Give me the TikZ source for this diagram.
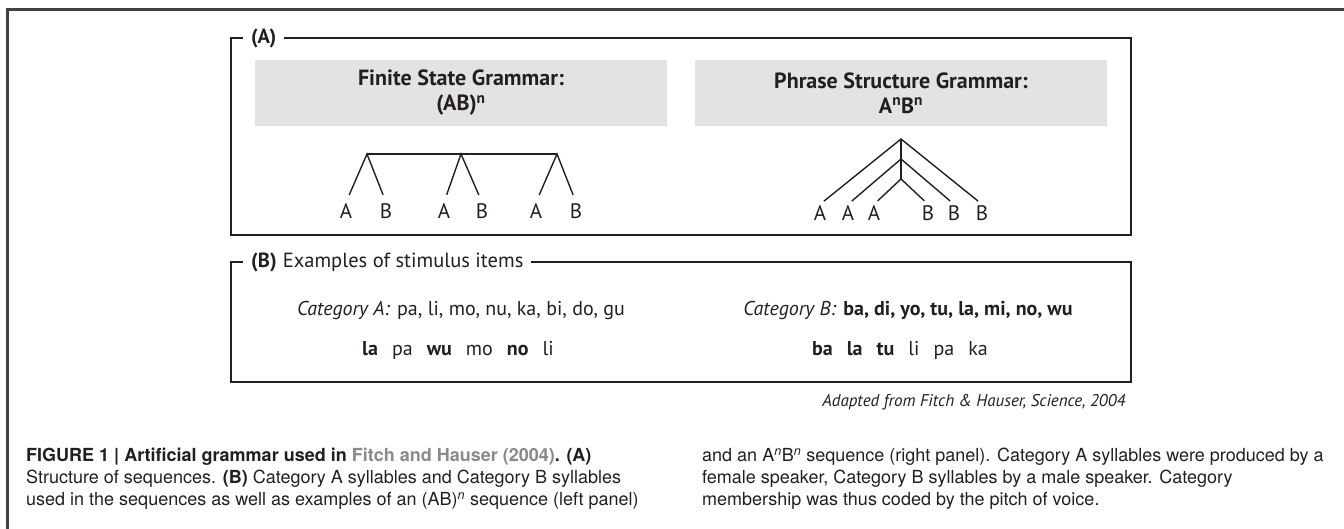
\documentclass[tikz,border=0pt]{standalone}
\usepackage{fontspec}
\setmainfont{PT Sans}
\newfontfamily\capfont{TeX Gyre Heros}
\usetikzlibrary{positioning}
\definecolor{ink}{HTML}{231F20}
\definecolor{boxgray}{HTML}{E3E3E3}
\definecolor{refgray}{HTML}{8A8A8A}
\newcommand{\sylgap}{\hspace{.7em}}
\tikzset{%
  frame/.style={draw=ink, line width=1.6pt},
  tag/.style={fill=white, inner xsep=8pt, inner ysep=1pt, anchor=west, text=ink, font=\fontsize{20.5}{24}\selectfont},
  title/.style={fill=boxgray, minimum width=412pt, minimum height=66pt, align=center, text=ink, font=\fontsize{22}{25}\selectfont\bfseries},
  leaf/.style={inner sep=1pt, text=ink, font=\fontsize{21}{24}\selectfont},
  branch/.style={draw=ink, line width=1.4pt},
  items/.style={text=ink, font=\fontsize{20}{24}\selectfont},
  capnote/.style={anchor=north west, inner sep=0pt, align=left, text=ink, font=\capfont\fontsize{18}{22}\selectfont}
}

\begin{document}
\begin{tikzpicture}[x=1pt,y=-1pt]
\useasboundingbox (0,0) rectangle (1344,529);
\draw[ink!85, line width=2.2pt] (1344,9.5) -| (7.5,529);
\draw[frame] (231,38) rectangle (1131,235);
\node[tag, font=\fontsize{20.5}{24}\selectfont\bfseries] (taga) at (243,38) {(A)};
\node[title] (fsg) at (461,93) {Finite State Grammar:\\(AB)\textsuperscript{n}};
\node[title] (psg) at (901,93) {Phrase Structure Grammar:\\A\textsuperscript{n}B\textsuperscript{n}};
\coordinate (l1) at (367,154);
\coordinate (l2) at (461,154);
\coordinate (l3) at (557,154);
\node[leaf] (la1) at (346,211) {A};
\node[leaf] (lb1) at (386,211) {B};
\node[leaf] (la2) at (444,211) {A};
\node[leaf] (lb2) at (482,211) {B};
\node[leaf] (la3) at (536,211) {A};
\node[leaf] (lb3) at (576,211) {B};
\draw[branch] (l1) -- (l3);
\draw[branch, shorten <=8pt, shorten >=8pt] (la1.north) -- (l1) -- (lb1.north);
\draw[branch, shorten <=8pt, shorten >=8pt] (la2.north) -- (l2) -- (lb2.north);
\draw[branch, shorten <=8pt, shorten >=8pt] (la3.north) -- (l3) -- (lb3.north);
\coordinate (r1) at (901,139);
\coordinate (r2) at (901,159);
\coordinate (r3) at (901,179);
\node[leaf] (ra1) at (820,213) {A};
\node[leaf] (ra2) at (848,213) {A};
\node[leaf] (ra3) at (874,213) {A};
\node[leaf] (rb1) at (928,213) {B};
\node[leaf] (rb2) at (954,213) {B};
\node[leaf] (rb3) at (982,213) {B};
\draw[branch] (r1) -- (r3);
\draw[branch, shorten <=5pt, shorten >=5pt] (ra1.north) -- (r1) -- (rb3.north);
\draw[branch, shorten <=5pt, shorten >=5pt] (ra2.north) -- (r2) -- (rb2.north);
\draw[branch, shorten <=5pt, shorten >=5pt] (ra3.north) -- (r3) -- (rb1.north);
\draw[frame] (231,262) rectangle (1131,382);
\node[tag] (tagb) at (243,262) {\textbf{(B)}\hspace{.3em}Examples of stimulus items};
\node[items] (cata) at (461,311) {\textit{Category A:}\hspace{.35em}pa, li, mo, nu, ka, bi, do, gu};
\node[items] (catb) at (908,311) {\textit{Category B:}\hspace{.35em}\textbf{ba, di, yo, tu, la, mi, no, wu}};
\node[items] (seqa) at (458,350) {\textbf{la}\sylgap pa\sylgap\textbf{wu}\sylgap mo\sylgap\textbf{no}\sylgap li};
\node[items] (seqb) at (900,350) {\textbf{ba}\sylgap\textbf{la}\sylgap\textbf{tu}\sylgap li\sylgap pa\sylgap ka};
\node[items, anchor=east, font=\fontsize{17}{20}\selectfont\itshape] (src) at (1129,402) {Adapted from Fitch \& Hauser, Science, 2004};
\node[capnote] (capl) at (26,448) {\textbf{FIGURE 1 \textbar\ Artificial grammar used in \textcolor{refgray}{Fitch and Hauser (2004)}. (A)}\\
Structure of sequences. \textbf{(B)} Category A syllables and Category B syllables\\
used in the sequences as well as examples of an (AB)\textsuperscript{\textit{n}} sequence (left panel)};
\node[capnote] (capr) at (702,448) {and an A\textsuperscript{\textit{n}}B\textsuperscript{\textit{n}} sequence (right panel). Category A syllables were produced by a\\
female speaker, Category B syllables by a male speaker. Category\\
membership was thus coded by the pitch of voice.};
\end{tikzpicture}
\end{document}
